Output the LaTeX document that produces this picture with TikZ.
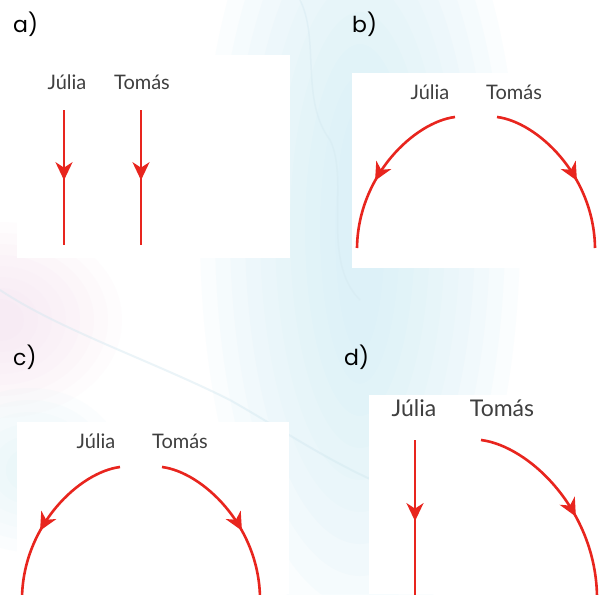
\documentclass[tikz,border=0pt]{standalone}
\usepackage{fontspec}
\setmainfont{Lato}
\newfontfamily\labfont{Poppins}
\usetikzlibrary{arrows.meta,decorations.markings}
\definecolor{arrred}{HTML}{E8251E}
\definecolor{txtgrey}{HTML}{3F3F3F}
\definecolor{bgblue}{HTML}{CDEDF8}
\definecolor{bgpink}{HTML}{F6D8EC}
\definecolor{bgline}{HTML}{D3E8F0}
\begin{document}
\begin{tikzpicture}[x=1pt,y=-1pt,
  panelbox/.style={fill=white,draw=none},
  who/.style={font=\fontsize{20}{20}\selectfont, text=txtgrey, inner sep=0pt, anchor=base},
  whobig/.style={who, font=\fontsize{23}{23}\selectfont},
  panlabel/.style={font=\labfont\fontsize{22}{22}\selectfont, anchor=base west, inner sep=0pt},
  motion/.style={draw=arrred, line width=2.6pt, postaction={decorate},
    decoration={markings, mark=at position #1 with {\arrow{Stealth[length=18pt,width=17pt,inset=5.5pt]}}}},
  motion/.default=0.5]
\clip (0,0) rectangle (601,594);
\fill[white] (0,0) rectangle (601,594);
% soft background
\foreach \r in {1,...,10}{
  \fill[bgblue, opacity=0.09] (360,230) ellipse ({10+\r*15} and {90+\r*32});
}
\foreach \r in {1,...,8}{
  \fill[bgpink, opacity=0.07] (0,320) ellipse ({10+\r*14} and {10+\r*11});
}
\foreach \r in {1,...,6}{
  \fill[bgblue, opacity=0.07] (30,470) ellipse ({10+\r*14} and {10+\r*12});
}
\draw[bgline, line width=2pt, opacity=0.45] (0,290) .. controls (60,330) and (150,360) .. (230,400) .. controls (300,440) and (340,470) .. (420,500);
\draw[bgline, line width=1.5pt, opacity=0.4] (300,0) .. controls (320,40) and (300,100) .. (330,140) .. controls (350,180) and (320,260) .. (360,300);
% panel boxes
\fill[panelbox] (17,55) rectangle (290,258);
\fill[panelbox] (352,73) rectangle (601,268);
\fill[panelbox] (17,422) rectangle (289,594);
\fill[panelbox] (369,395) rectangle (601,594);
% panel labels
\node[panlabel] (la) at (13,33) {a)};
\node[panlabel] (lb) at (352,33) {b)};
\node[panlabel] (lc) at (13,365) {c)};
\node[panlabel] (ld) at (344,365) {d)};
% panel a
\node[who] (aJ) at (67,89) {Júlia};
\node[who] (aT) at (142,89) {Tomás};
\coordinate (aJs) at (64,110); \coordinate (aJe) at (64,245);
\coordinate (aTs) at (141,110); \coordinate (aTe) at (141,245);
\draw[motion=0.52] (aJs) -- (aJe);
\draw[motion=0.52] (aTs) -- (aTe);
% panel b
\node[who] (bJ) at (430,99) {Júlia};
\node[who] (bT) at (514,99) {Tomás};
\coordinate (bJs) at (455,117); \coordinate (bJe) at (357,248);
\coordinate (bTs) at (497,117); \coordinate (bTe) at (595,248);
\draw[motion=0.6] (bJs) .. controls (415,122) and (358,175) .. (bJe);
\draw[motion=0.6] (bTs) .. controls (537,122) and (594,175) .. (bTe);
% panel c
\node[who] (cJ) at (96,448) {Júlia};
\node[who] (cT) at (180,448) {Tomás};
\coordinate (cJs) at (120,467); \coordinate (cJe) at (22,598);
\coordinate (cTs) at (162,467); \coordinate (cTe) at (260,598);
\draw[motion=0.6] (cJs) .. controls (80,472) and (23,525) .. (cJe);
\draw[motion=0.6] (cTs) .. controls (202,472) and (259,525) .. (cTe);
% panel d
\node[whobig] (dJ) at (414,416) {Júlia};
\node[whobig] (dT) at (502,416) {Tomás};
\coordinate (dJs) at (415,440); \coordinate (dJe) at (415,596);
\coordinate (dTs) at (481,440); \coordinate (dTe) at (597,597);
\draw[motion=0.52] (dJs) -- (dJe);
\draw[motion=0.6] (dTs) .. controls (529,446) and (596,510) .. (dTe);
\end{tikzpicture}
\end{document}
